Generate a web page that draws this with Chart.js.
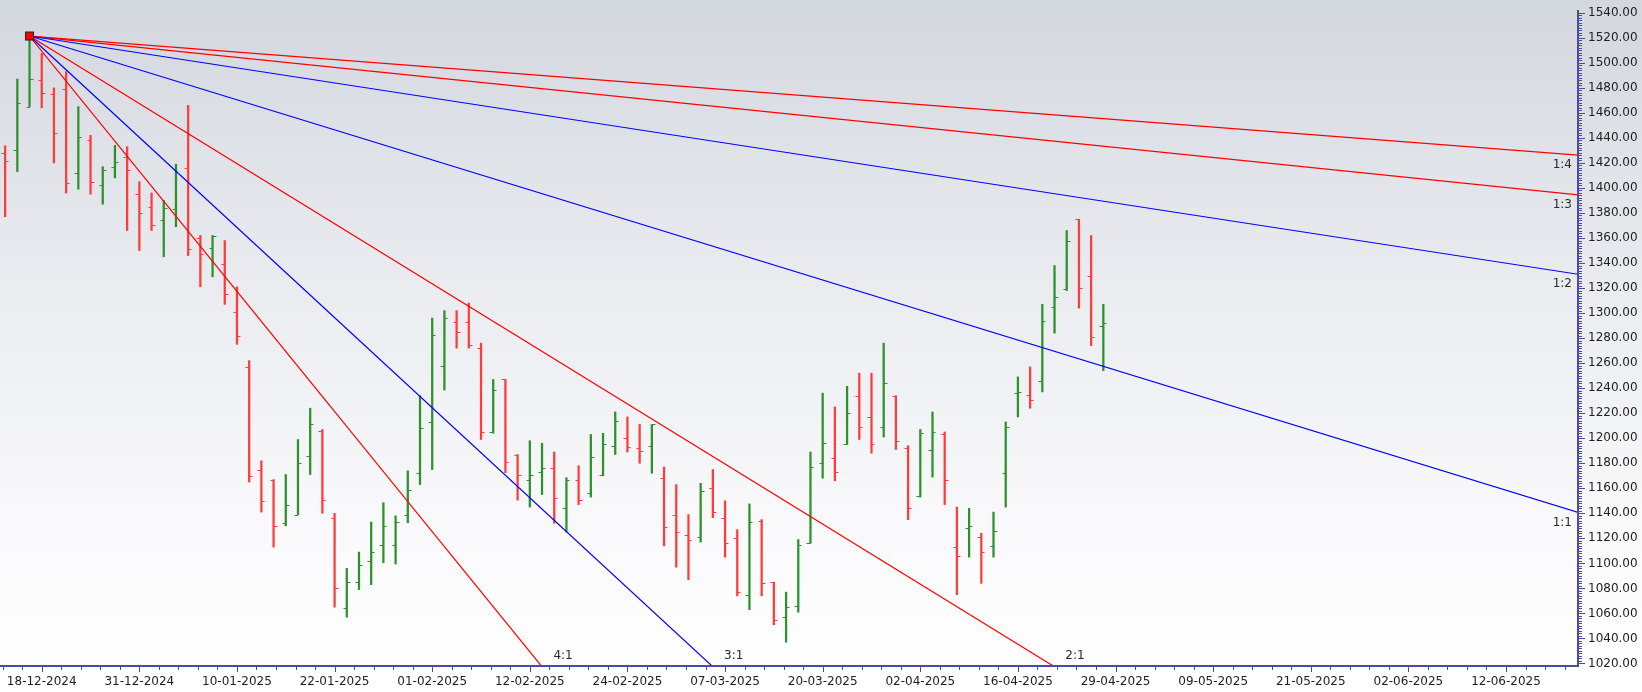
<!DOCTYPE html>
<html><head><meta charset="utf-8">
<script src="https://cdn.jsdelivr.net/npm/chart.js@4/dist/chart.umd.min.js"></script>
<style>html,body{margin:0;padding:0;background:#fff;overflow:hidden}</style>
</head><body>
<canvas id="c" width="1642" height="692" style="display:block;width:1642px;height:692px"></canvas>
<script>
// Bar index of first bar (13-12-2024); index 0 = 18-12-2024 (trading-day index)
const firstIndex = -3;
const highs  = [1433.7,1487,1521.4,1507.6,1480,1493,1465,1442,1417,1434,1433,1405,1396,1390,1419,1466,1362,1362,1358,1321,1262,1182,1167,1171,1199,1224,1207,1140,1096,1109,1133,1148.5,1138,1174,1234,1296,1302,1302,1308,1276,1247,1247,1187,1198,1196,1189,1168.5,1178,1203,1204,1221,1217,1211,1211,1177,1163,1139,1164,1175,1150,1127,1147.5,1135,1085,1077,1119,1189,1236,1225,1241.5,1252,1252,1276,1234,1194,1207,1221,1205,1145,1144,1124,1141,1213,1249,1257,1307,1338,1366,1375,1362,1307];
const lows   = [1377,1413,1465,1464,1420,1396,1399,1395,1387,1408,1366,1350,1366,1345,1369,1346,1321,1329,1307,1275,1165,1141,1113,1130,1139,1171,1140,1065,1057,1079,1083,1100.5,1099.5,1132.5,1163,1175,1238.5,1272,1272,1199,1204,1172.5,1150.6,1145,1155,1132,1125,1147,1153,1170,1187,1189,1180,1172,1114,1097,1087,1117,1136.5,1105,1074,1063,1074,1051,1037,1061,1116,1168,1166,1195,1199,1188,1201,1191,1135,1153,1169,1147,1075,1105,1084,1105,1145,1217,1224,1237,1284,1318,1304,1274,1254];
const opens  = [1428,1430,1465,1486,1475,1479,1412,1438,1402,1417,1425,1395,1385,1374,1383,1416,1360,1352,1339,1301,1257,1175,1167,1132,1139,1186,1206,1136,1064,1085,1102,1115,1115,1139,1172,1213,1258,1293,1293,1272,1205,1247,1187,1167,1173,1176,1144,1167,1156,1171,1194,1200,1192,1194,1168,1139,1123,1121,1160,1136,1120,1075,1134,1085,1057,1066,1116,1180,1184,1195,1234,1217,1209,1234,1192,1154,1191,1203,1113,1128,1121,1114,1172,1236,1234.5,1246,1305,1319,1375,1330,1290];
const closes = [1421.5,1468,1487,1476,1444,1404,1441,1405,1414,1421,1414,1380,1370,1384,1412,1351,1347,1362,1315,1282,1170,1150,1130,1147,1180,1211,1151,1080,1085,1099,1109,1130,1133,1159,1208,1282.5,1296,1285,1274.5,1205,1238.5,1181,1171,1171,1176,1152,1167,1151,1185,1195,1214,1193,1190,1211,1129,1125,1119,1158,1141,1116,1077,1133,1084,1055,1065,1115,1177,1196,1173,1220,1209,1195,1244,1198,1144,1204,1205,1167,1106,1130,1109,1126,1209,1237,1230.5,1294,1313,1358,1320,1281,1292];

const dateTickIndex  = [0,8,16,24,32,40,48,56,64,72,80,88,96,104,112,120];
const dateTickLabels = ['18-12-2024','31-12-2024','10-01-2025','22-01-2025','01-02-2025','12-02-2025','24-02-2025','07-03-2025','20-03-2025','02-04-2025','16-04-2025','29-04-2025','09-05-2025','21-05-2025','02-06-2025','12-06-2025'];
const priceTicks = [1020,1040,1060,1080,1100,1120,1140,1160,1180,1200,1220,1240,1260,1280,1300,1320,1340,1360,1380,1400,1420,1440,1460,1480,1500,1520,1540];

// Gann fan from the pivot high
const pivotIndex = -1;
const pivotPrice = 1521.4;
const fanNames  = ['4:1','3:1','2:1','1:1','1:2','1:3','1:4'];
const fanSlopes = [12, 9, 6, 3, 1.5, 1, 0.75]; // price points per bar
const fanColors = ['rgb(255,0,0)','rgb(0,0,255)','rgb(255,0,0)','rgb(0,0,255)','rgb(0,0,255)','rgb(255,0,0)','rgb(255,0,0)'];

const X_MIN = -3.42, X_MAX = 125.9, Y_MIN = 1018, Y_MAX = 1542.2;
const UP = 'rgb(45,145,45)', DOWN = 'rgb(255,60,60)';
const AXIS = 'rgb(75,75,160)';
const FONT = '"DejaVu Sans", Verdana, sans-serif';

const barData = highs.map((h, k) => ({x: firstIndex + k, y: [lows[k], h]}));
const barColors = closes.map((c, k) => c >= opens[k] ? UP : DOWN);

const fanDatasets = fanNames.map((n, k) => ({
  type: 'line', label: n,
  data: [{x: pivotIndex, y: pivotPrice}, {x: 130, y: pivotPrice - fanSlopes[k] * (130 - pivotIndex)}],
  borderColor: fanColors[k], borderWidth: 1.2, pointRadius: 0, tension: 0, order: 1
}));

const bgPlugin = {
  id: 'bg',
  beforeDraw(chart) {
    const ctx = chart.ctx;
    const g = ctx.createLinearGradient(0, 0, 0, chart.height);
    g.addColorStop(0, '#d3d7de');
    g.addColorStop(0.4, '#e9ebef');
    g.addColorStop(0.75, '#f9f9fb');
    g.addColorStop(1, '#ffffff');
    ctx.save(); ctx.fillStyle = g; ctx.fillRect(0, 0, chart.width, chart.height); ctx.restore();
  }
};

const ohlcPlugin = {
  id: 'ohlcTicks',
  afterDatasetsDraw(chart) {
    const {ctx, scales: {x, y}} = chart;
    ctx.save();
    ctx.lineWidth = 1;
    for (let k = 0; k < opens.length; k++) {
      const px = Math.round(x.getPixelForValue(firstIndex + k));
      ctx.strokeStyle = barColors[k];
      const yo = Math.round(y.getPixelForValue(opens[k])) + 0.5;
      const yc = Math.round(y.getPixelForValue(closes[k])) + 0.5;
      ctx.beginPath();
      ctx.moveTo(px - 3.5, yo); ctx.lineTo(px, yo);
      ctx.moveTo(px, yc); ctx.lineTo(px + 3.5, yc);
      ctx.stroke();
    }
    ctx.restore();
  }
};

const axesPlugin = {
  id: 'axesDecor',
  afterDraw(chart) {
    const {ctx, chartArea: a, scales: {x, y}} = chart;
    ctx.save();
    // fan labels
    ctx.fillStyle = '#2a2a2a';
    ctx.font = '12px ' + FONT;
    ctx.textBaseline = 'middle';
    fanNames.forEach((n, k) => {
      const vEnd = pivotPrice - fanSlopes[k] * (x.max - pivotIndex);
      if (vEnd >= y.min) {
        ctx.textAlign = 'right';
        ctx.fillText(n, a.right - 6, y.getPixelForValue(vEnd) + 10);
      } else {
        const xc = pivotIndex + (pivotPrice - y.min) / fanSlopes[k];
        ctx.textAlign = 'left';
        ctx.fillText(n, x.getPixelForValue(xc) + 12, a.bottom - 10);
      }
    });
    // pivot marker
    const px = x.getPixelForValue(pivotIndex), py = y.getPixelForValue(pivotPrice);
    ctx.fillStyle = 'rgb(255,0,0)'; ctx.strokeStyle = '#222'; ctx.lineWidth = 1;
    ctx.fillRect(px - 4, py - 4, 8, 8); ctx.strokeRect(px - 4, py - 4, 8, 8);
    // axis lines
    ctx.strokeStyle = AXIS; ctx.lineWidth = 2;
    ctx.beginPath();
    ctx.moveTo(0, a.bottom); ctx.lineTo(a.right + 1, a.bottom);
    ctx.moveTo(a.right, a.top); ctx.lineTo(a.right, a.bottom + 1);
    ctx.stroke();
    // y ticks (major every 20, minor every 2)
    ctx.lineWidth = 1;
    ctx.beginPath();
    for (let v = 1020; v <= 1540; v += 2) {
      const yy = Math.round(y.getPixelForValue(v)) + 0.5;
      const len = (v % 20 === 0) ? 6 : 3;
      ctx.moveTo(a.right + 1, yy); ctx.lineTo(a.right + 1 + len, yy);
    }
    // x ticks (major every 8 bars, minor every 1.6 bars)
    for (let t = -2; t <= 79; t++) {
      const v = t * 1.6;
      if (v < x.min || v > x.max) continue;
      const xx = Math.round(x.getPixelForValue(v)) + 0.5;
      const len = (t % 5 === 0) ? 5 : 3;
      ctx.moveTo(xx, a.bottom + 1); ctx.lineTo(xx, a.bottom + 1 + len);
    }
    ctx.strokeStyle = AXIS;
    ctx.stroke();
    ctx.restore();
  }
};

new Chart(document.getElementById('c'), {
  type: 'line',
  data: {
    datasets: [
      ...fanDatasets,
      {type: 'bar', label: 'price', data: barData, backgroundColor: barColors, borderWidth: 0,
       barThickness: 1.6, order: 2, grouped: false}
    ]
  },
  options: {
    responsive: false, animation: false, devicePixelRatio: 1,
    layout: {padding: {top: 10, left: 0, right: 0, bottom: 0}},
    plugins: {legend: {display: false}, tooltip: {enabled: false}},
    scales: {
      x: {
        type: 'linear', min: X_MIN, max: X_MAX, offset: false,
        grid: {display: false, drawTicks: false}, border: {display: false},
        afterBuildTicks: s => { s.ticks = dateTickIndex.map(v => ({value: v})); },
        afterFit: s => { s.height = 26; s.paddingLeft = 0; s.paddingRight = 0; },
        ticks: {autoSkip: false, maxRotation: 0, padding: 9, color: '#1e1e1e',
          font: {family: FONT, size: 12},
          callback: v => dateTickLabels[dateTickIndex.indexOf(v)] || ''}
      },
      y: {
        type: 'linear', position: 'right', min: Y_MIN, max: Y_MAX,
        grid: {display: false, drawTicks: false}, border: {display: false},
        afterBuildTicks: s => { s.ticks = priceTicks.map(v => ({value: v})); },
        afterFit: s => { s.width = 64; s.paddingTop = 0; s.paddingBottom = 0; },
        ticks: {padding: 10, color: '#1e1e1e', font: {family: FONT, size: 12},
          callback: v => Number(v).toFixed(2)}
      }
    }
  },
  plugins: [bgPlugin, ohlcPlugin, axesPlugin]
});
</script>
</body></html>
